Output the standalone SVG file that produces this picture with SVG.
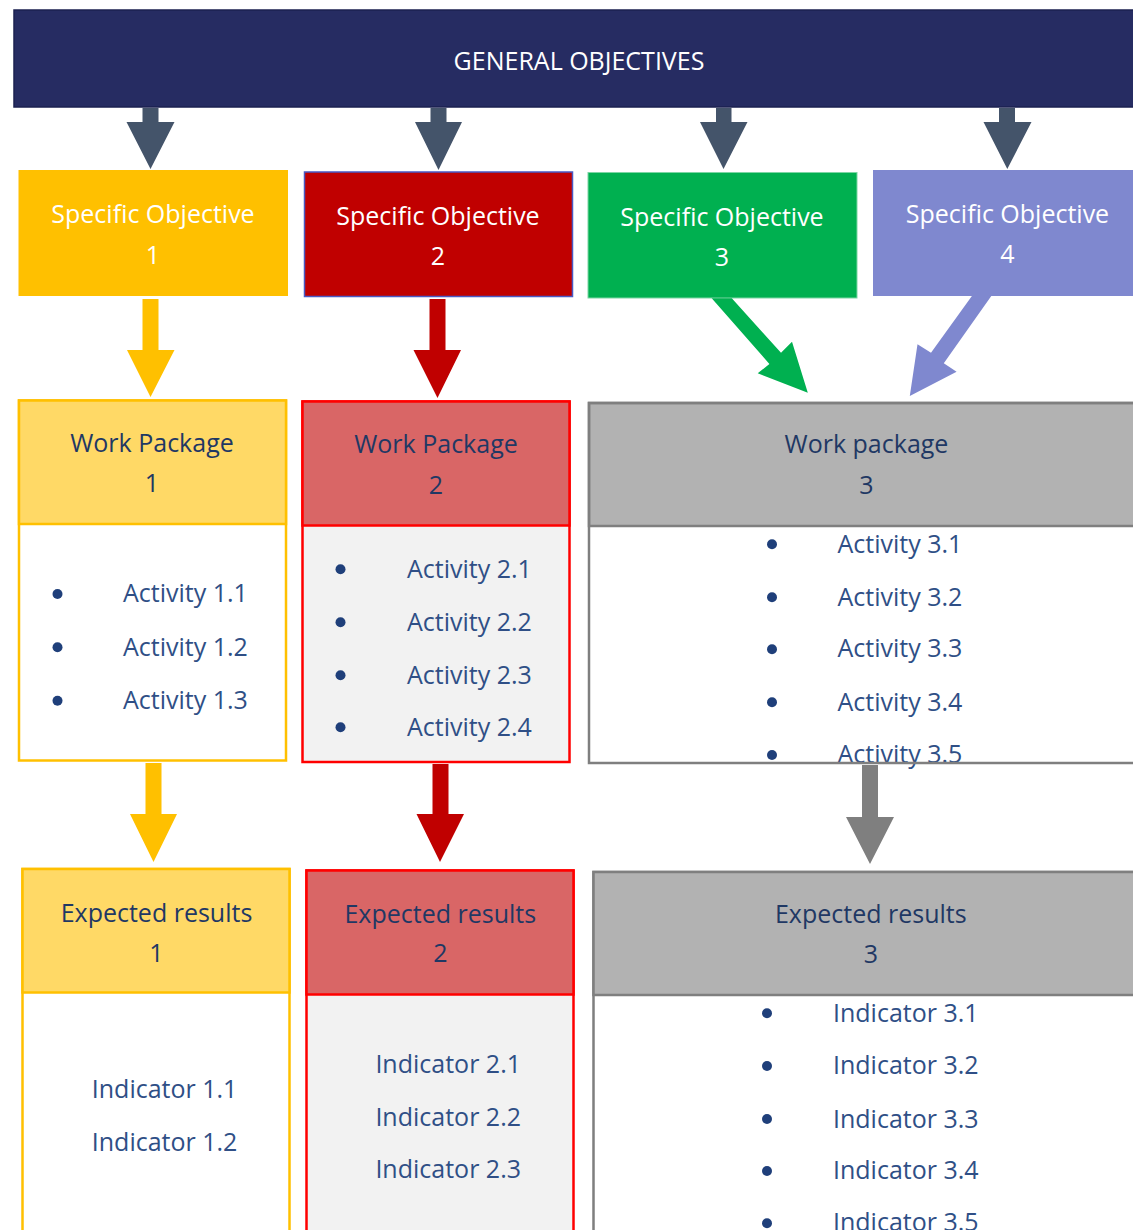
<svg xmlns="http://www.w3.org/2000/svg" width="1133" height="1230" viewBox="0 0 1133 1230">
<style>
text{font-family:"Open Sans","Noto Sans","DejaVu Sans",sans-serif;font-size:25px}
.w{fill:#FFFFFF}
.c{text-anchor:middle}
.h{fill:#1F3864}
.i{fill:#2F4F86}
.b{fill:#1F3F7A}
.dark{fill:#44546A}
.yel{fill:#FFC000}
.red{fill:#C00000}
.grn{fill:#00B050}
.pur{fill:#7F88CF}
.gry{fill:#7F7F7F}
.yb{fill:#FFFFFF;stroke:#FFC000;stroke-width:2.5}
.yh{fill:#FFD966;stroke:#FFC000;stroke-width:2.5}
.rb{fill:#F2F2F2;stroke:#FF0000;stroke-width:2.5}
.rh{fill:#D96666;stroke:#FF0000;stroke-width:2.5}
.gb{fill:#FFFFFF;stroke:#7F7F7F;stroke-width:2.5}
.gh{fill:#B2B2B2;stroke:#7F7F7F;stroke-width:2.5}
</style>

<g id="general-objectives">
<rect x="14" y="10" width="1130" height="97" fill="#262C62" stroke="#1B2150" stroke-width="1.5"/>
<text class="w c" x="579" y="70">GENERAL OBJECTIVES</text>
</g>

<g id="so1">
<rect x="18.5" y="170" width="269.5" height="126" fill="#FFC000"/>
<text class="w c" x="153" y="223">Specific Objective</text>
<text class="w c" x="153" y="264">1</text>
</g>
<g id="so2">
<rect x="304.5" y="172" width="268" height="124.5" fill="#C00000" stroke="#4A5AC4" stroke-width="1.5"/>
<text class="w c" x="438" y="224.5">Specific Objective</text>
<text class="w c" x="438" y="265">2</text>
</g>
<g id="so3">
<rect x="588" y="172.5" width="269" height="125.5" fill="#00B050" stroke="#7CD6A4" stroke-width="1"/>
<text class="w c" x="722" y="226">Specific Objective</text>
<text class="w c" x="722" y="266">3</text>
</g>
<g id="so4">
<rect x="873" y="170" width="270" height="126" fill="#7F88CF"/>
<text class="w c" x="1007.5" y="222.5">Specific Objective</text>
<text class="w c" x="1007.5" y="262.5">4</text>
</g>

<g id="wp1">
<rect class="yb" x="19" y="400.5" width="267" height="360"/>
<rect class="yh" x="19" y="400.5" width="267" height="123.5"/>
<text class="h c" x="152" y="451.5">Work Package</text>
<text class="h c" x="152" y="491.5">1</text>
<circle class="b" cx="57.5" cy="594" r="5"/>
<circle class="b" cx="57.5" cy="647.3" r="5"/>
<circle class="b" cx="57.5" cy="700.7" r="5"/>
<text class="i" x="123" y="602.3">Activity 1.1</text>
<text class="i" x="123" y="655.7">Activity 1.2</text>
<text class="i" x="123" y="709">Activity 1.3</text>
</g>

<g id="wp2">
<rect class="rb" x="302.5" y="401.5" width="267" height="360.5"/>
<rect class="rh" x="302.5" y="401.5" width="267" height="124"/>
<text class="h c" x="436" y="453">Work Package</text>
<text class="h c" x="436" y="494">2</text>
<circle class="b" cx="340.5" cy="569.3" r="5"/>
<circle class="b" cx="340.5" cy="622.3" r="5"/>
<circle class="b" cx="340.5" cy="675.3" r="5"/>
<circle class="b" cx="340.5" cy="727.3" r="5"/>
<text class="i" x="407" y="578">Activity 2.1</text>
<text class="i" x="407" y="631">Activity 2.2</text>
<text class="i" x="407" y="684">Activity 2.3</text>
<text class="i" x="407" y="736">Activity 2.4</text>
</g>

<g id="wp3">
<rect x="589" y="403" width="560" height="360" fill="#FFFFFF"/>
<rect class="gh" x="589" y="403" width="560" height="123"/>
<text class="h c" x="866.5" y="453">Work package</text>
<text class="h c" x="866.5" y="494">3</text>
<circle class="b" cx="772" cy="544.3" r="5"/>
<circle class="b" cx="772" cy="597.3" r="5"/>
<circle class="b" cx="772" cy="649.3" r="5"/>
<circle class="b" cx="772" cy="702.3" r="5"/>
<circle class="b" cx="772" cy="755" r="5"/>
<text class="i" x="837.5" y="552.7">Activity 3.1</text>
<text class="i" x="837.5" y="605.7">Activity 3.2</text>
<text class="i" x="837.5" y="657.3">Activity 3.3</text>
<text class="i" x="837.5" y="710.7">Activity 3.4</text>
<text class="i" x="837.5" y="763.3">Activity 3.5</text>
<rect x="589" y="403" width="560" height="360" fill="none" stroke="#7F7F7F" stroke-width="2.5"/>
</g>

<g id="er1">
<rect class="yb" x="22.5" y="869" width="267" height="400"/>
<rect class="yh" x="22.5" y="869" width="267" height="123.5"/>
<text class="h c" x="156.5" y="921.7">Expected results</text>
<text class="h c" x="156.5" y="961.7">1</text>
<text class="i" x="91.8" y="1097.7">Indicator 1.1</text>
<text class="i" x="91.8" y="1150.7">Indicator 1.2</text>
</g>

<g id="er2">
<rect class="rb" x="306.5" y="870.5" width="267" height="400"/>
<rect class="rh" x="306.5" y="870.5" width="267" height="124"/>
<text class="h c" x="440.3" y="922.7">Expected results</text>
<text class="h c" x="440.3" y="962.3">2</text>
<text class="i" x="375.4" y="1072.7">Indicator 2.1</text>
<text class="i" x="375.4" y="1125.7">Indicator 2.2</text>
<text class="i" x="375.4" y="1178.3">Indicator 2.3</text>
</g>

<g id="er3">
<rect class="gb" x="593.5" y="872" width="560" height="400"/>
<rect class="gh" x="593.5" y="872" width="560" height="123"/>
<text class="h c" x="870.8" y="923.3">Expected results</text>
<text class="h c" x="870.8" y="963.3">3</text>
<circle class="b" cx="767" cy="1013.3" r="5"/>
<circle class="b" cx="767" cy="1066" r="5"/>
<circle class="b" cx="767" cy="1119" r="5"/>
<circle class="b" cx="767" cy="1171" r="5"/>
<circle class="b" cx="767" cy="1223.3" r="5"/>
<text class="i" x="833" y="1021.7">Indicator 3.1</text>
<text class="i" x="833" y="1074.3">Indicator 3.2</text>
<text class="i" x="833" y="1127.7">Indicator 3.3</text>
<text class="i" x="833" y="1179.3">Indicator 3.4</text>
<text class="i" x="833" y="1231">Indicator 3.5</text>
</g>

<g id="connectors">
<polygon class="dark" points="142.5,108 158.5,108 158.5,122 174.5,122 150.5,169 126.5,122 142.5,122"/>
<polygon class="dark" points="430.5,108 446.5,108 446.5,122 462,122 438.5,170 415,122 430.5,122"/>
<polygon class="dark" points="716,108 731.5,108 731.5,122 747.5,122 723.5,169 700,122 716,122"/>
<polygon class="dark" points="999,108 1015,108 1015,122 1031.5,122 1007.3,169 983.5,122 999,122"/>
<polygon class="yel" points="142.5,299 158.5,299 158.5,350 174.5,350 150.5,397 127,350 142.5,350"/>
<polygon class="red" points="429.5,299 445.5,299 445.5,350 461,350 437.5,398 413.5,350 429.5,350"/>
<polygon class="grn" points="711.7,298.3 731.8,298.3 781,352.7 792,341.7 807.8,392.7 757.7,373.3 769.4,364"/>
<polygon class="pur" points="971.9,296 991.3,296 943.8,363.3 956.6,371.7 909.8,396 917.5,344.3 931,352.7"/>
<polygon class="yel" points="145.5,763 161.5,763 161.5,814 177,814 153.5,862 130,814 145.5,814"/>
<polygon class="red" points="432.5,764 448.5,764 448.5,814 464,814 440,862 416.5,814 432.5,814"/>
<polygon class="gry" points="862,765 878,765 878,817 894,817 870,864 846,817 862,817"/>
</g>
</svg>
